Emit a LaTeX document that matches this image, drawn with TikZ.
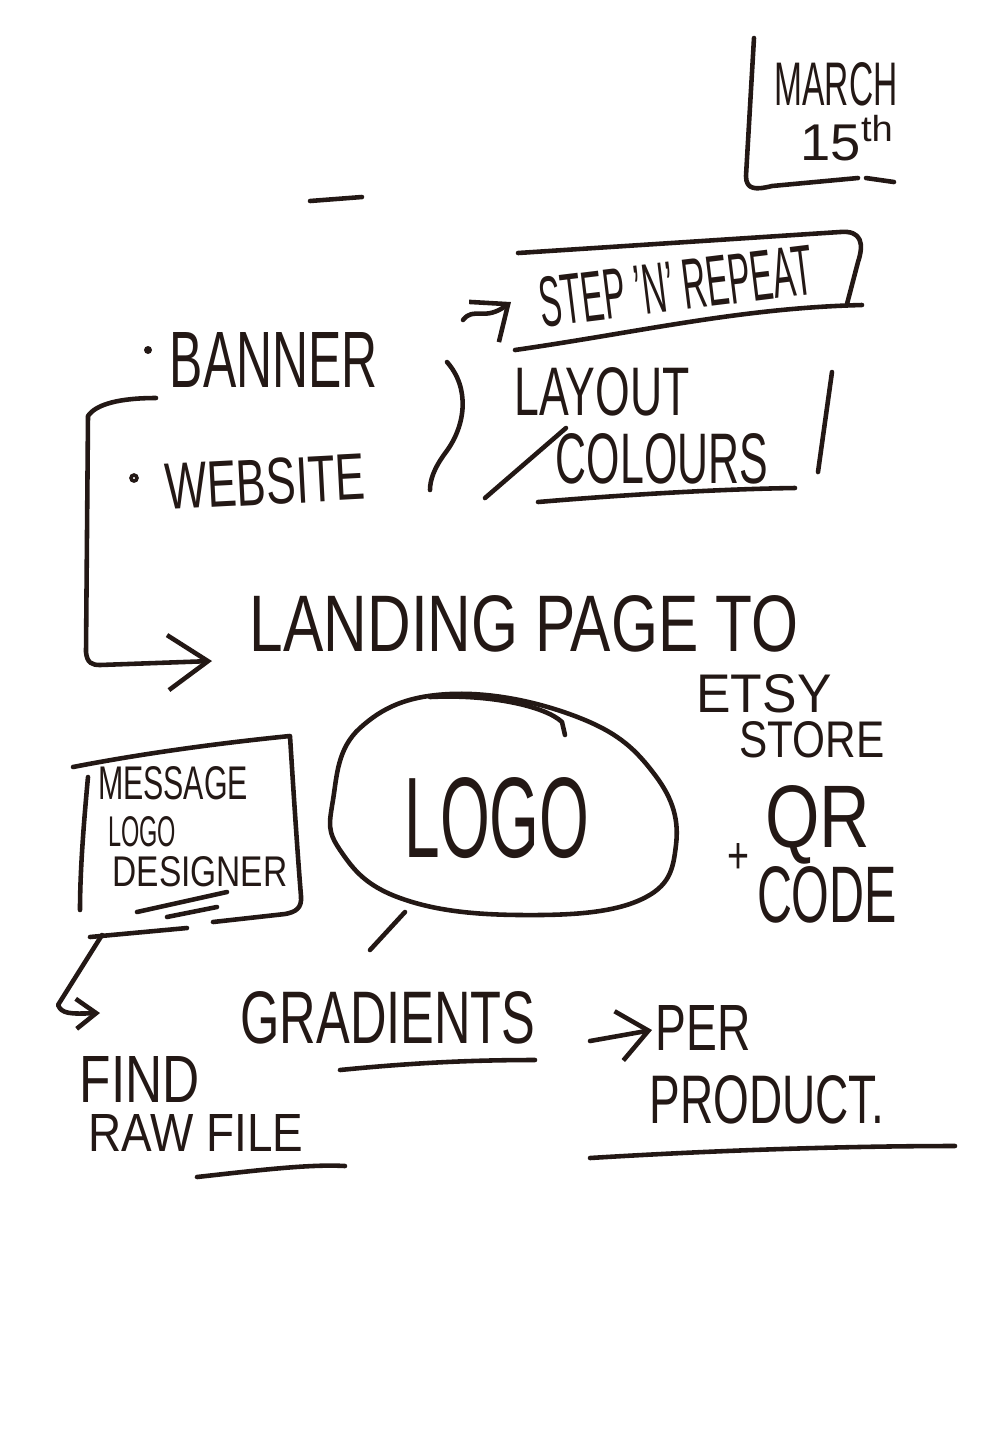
\documentclass[tikz,border=0pt]{standalone}
\usepackage{fontspec}
\setmainfont{Liberation Sans}
\usepackage{graphicx}
\usetikzlibrary{arrows.meta,positioning}
\definecolor{ink}{HTML}{231815}
\newlength\pxu
\setlength\pxu{0.01cm}
\newcommand{\scrawl}[3]{\resizebox{#1\pxu}{#2\pxu}{#3}}

\begin{document}
\begin{tikzpicture}[x=0.01cm,y=-0.01cm,
    pen/.style={draw=ink,line width=1.3pt,line cap=round,line join=round},
    hand/.style={text=ink,inner sep=0pt},
    penarrow/.style={pen,-{Straight Barb[length=3mm,width=5mm]}}]

\useasboundingbox (0,0) rectangle (1000,1438);

% Date corner
\node[hand] (march) at (836,84) {\scrawl{123}{43}{MARCH}};
\node[hand] (fifteenth) at (848,138) {\scrawl{95}{45}{15\textsuperscript{th}}};
\draw[pen] (754,38) -- (746,176) .. controls (746,190) and (756,190) .. (772,186) -- (858,178);
\draw[pen] (866,178) -- (894,182);

% Loose dash
\draw[pen] (310,201) -- (362,197);

% Step n repeat
\node[hand,rotate=7] (steprepeat) at (676,286) {\scrawl{275}{50}{STEP 'N' REPEAT}};
\draw[pen] (518,253) -- (840,232) .. controls (862,230) and (864,244) .. (858,262) -- (847,304);
\draw[pen] (515,350) .. controls (640,332) and (740,308) .. (862,305);

% Bullets
\fill[ink] (148,350) circle [radius=4];
\node[hand] (banner) at (274,360) {\scrawl{208}{55}{BANNER}};
\draw[ink,line width=1pt] (134,478) circle [radius=3];
\node[hand,rotate=3] (website) at (265,482) {\scrawl{200}{46}{WEBSITE}};

% Brace
\draw[pen] (447,362) .. controls (470,388) and (466,425) .. (446,452) .. controls (434,468) and (430,480) .. (430,490);

% Layout, colours
\node[hand] (layout) at (602,392) {\scrawl{175}{48}{LAYOUT}};
\node[hand] (colours) at (662,459) {\scrawl{212}{50}{COLOURS}};
\draw[pen] (485,498) -- (566,428);
\draw[pen] (538,502) .. controls (620,495) and (720,489) .. (795,488);
\draw[pen] (832,372) -- (818,472);

% Landing page
\node[hand] (landing) at (524,624) {\scrawl{548}{56}{LANDING PAGE TO}};
\node[hand] (etsy) at (764,694) {\scrawl{135}{38}{ETSY}};
\node[hand] (store) at (812,740) {\scrawl{145}{36}{STORE}};

% Logo bubble
\draw[pen] plot[smooth cycle,tension=0.7] coordinates {(333,800) (360,728) (450,694) (580,718) (655,775) (676,845) (640,900) (520,915) (400,898) (340,850)};
\draw[pen] (430,697) .. controls (490,694) and (545,706) .. (562,722) -- (565,735);
\draw[pen] (405,912) -- (370,950);
\node[hand] (logo) at (497,818) {\scrawl{185}{80}{LOGO}};

% Message box
\draw[pen] (73,767) .. controls (150,752) and (230,742) .. (290,736) .. controls (294,800) and (298,860) .. (301,896) .. controls (302,908) and (296,912) .. (285,914) -- (213,922);
\draw[pen] (88,777) .. controls (84,820) and (80,870) .. (80,910);
\draw[pen] (90,937) -- (187,928);
\draw[pen] (137,912) -- (227,892);
\draw[pen] (167,917) -- (217,907);
\node[hand] (message) at (173,783) {\scrawl{150}{33}{MESSAGE}};
\node[hand] (logosmall) at (142,832) {\scrawl{68}{30}{LOGO}};
\node[hand] (designer) at (200,872) {\scrawl{175}{30}{DESIGNER}};

% QR code
\node[hand] (plus) at (738,858) {\scrawl{22}{30}{+}};
\node[hand] (qr) at (818,825) {\scrawl{105}{62}{QR}};
\node[hand] (code) at (827,895) {\scrawl{140}{56}{CODE}};

% Find raw file
\node[hand] (find) at (140,1079) {\scrawl{120}{46}{FIND}};
\node[hand] (rawfile) at (196,1133) {\scrawl{215}{37}{RAW FILE}};
\draw[pen] (197,1177) .. controls (260,1170) and (310,1164) .. (345,1166);

% Gradients, per product
\node[hand] (gradients) at (388,1018) {\scrawl{295}{52}{GRADIENTS}};
\draw[pen] (340,1070) .. controls (420,1062) and (480,1060) .. (535,1060);
\node[hand] (per) at (703,1028) {\scrawl{95}{45}{PER}};
\node[hand] (product) at (767,1100) {\scrawl{235}{48}{PRODUCT.}};
\draw[pen] (590,1158) .. controls (720,1150) and (850,1146) .. (955,1146);

% Arrows
\coordinate (stepfrom) at (463,320);
\coordinate (stepto) at (511,302);
\coordinate (brtop) at (156,398);
\coordinate (landtip) at (212,661);
\coordinate (hookfrom) at (102,935);
\coordinate (hookto) at (100,1013);
\coordinate (gradfrom) at (590,1041);
\coordinate (gradto) at (652,1030);

\draw[penarrow] (stepfrom) .. controls (474,306) and (484,322) .. (stepto);
\draw[pen,-{Straight Barb[length=4mm,width=5.5mm]}] (brtop) .. controls (120,398) and (96,404) .. (88,416) -- (86,652) .. controls (87,663) and (92,665) .. (100,665) -- (landtip);
\draw[pen,-{Straight Barb[length=2mm,width=3mm]}] (hookfrom) -- (58,1005) .. controls (62,1014) and (70,1014) .. (hookto);
\draw[penarrow] (gradfrom) -- (gradto);

\end{tikzpicture}
\end{document}
